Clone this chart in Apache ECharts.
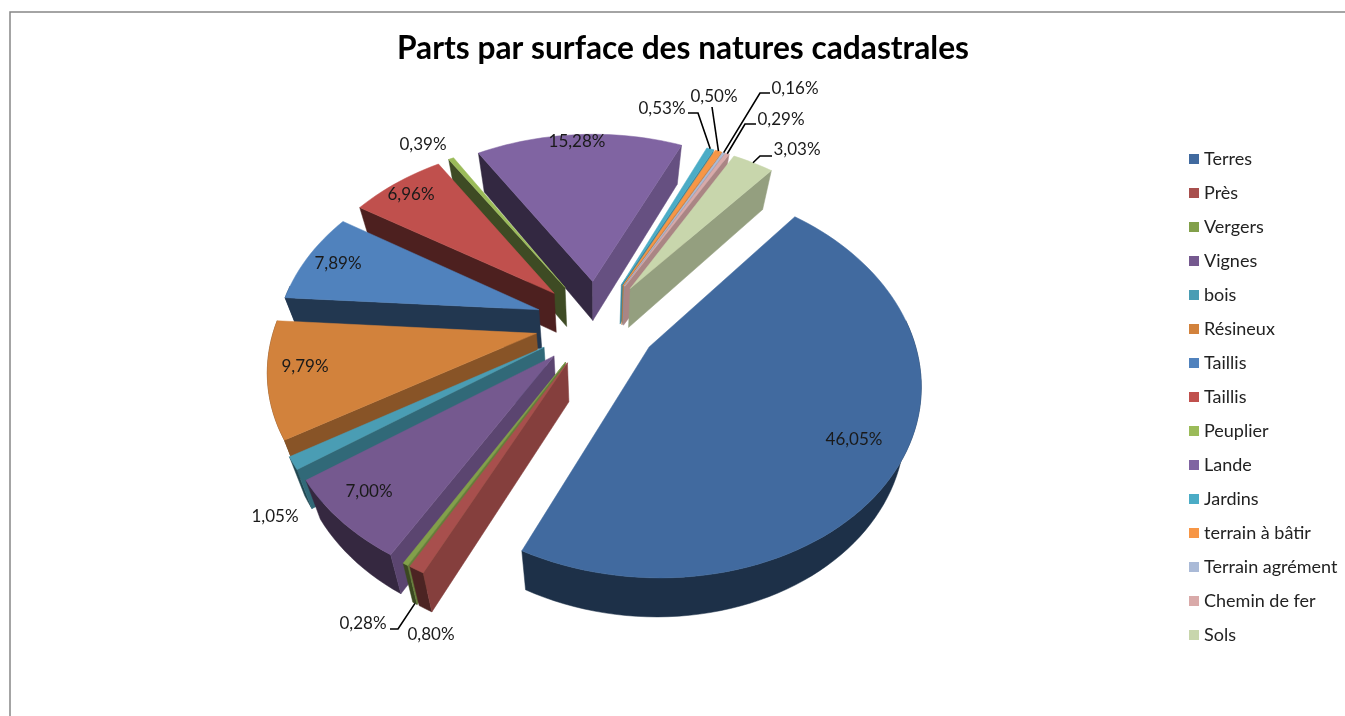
<!DOCTYPE html>
<html>
<head>
<meta charset="utf-8">
<title>Parts par surface des natures cadastrales</title>
<style>
  html, body { margin: 0; padding: 0; background: #fff; }
  #chart { width: 1345px; height: 716px; }
</style>
<script src="https://cdn.jsdelivr.net/npm/echarts@6/dist/echarts.min.js"></script>
</head>
<body>
<div id="chart"></div>
<script>
const categories = ["Terres", "Près", "Vergers", "Vignes", "bois", "Résineux", "Taillis", "Taillis", "Peuplier", "Lande", "Jardins", "terrain à bâtir", "Terrain agrément", "Chemin de fer", "Sols"];
const shares = [46.05, 0.80, 0.28, 7.00, 1.05, 9.79, 7.89, 6.96, 0.39, 15.28, 0.53, 0.50, 0.16, 0.29, 3.03];
const colors = ["#416a9f", "#a84f4d", "#82a04a", "#75598f", "#4a9db4", "#d2823c", "#5082bd", "#c0504d", "#9bbb59", "#8064a2", "#4bacc6", "#f79646", "#aabad7", "#d9aaa9", "#c8d6ac"];

// label centres, then the elbow of the leader line when the label has one
const labelSpots = [
  [854, 440], [431, 635], [363, 624, 398, 629, 390, 629], [369, 492], [275, 517],
  [305, 367], [338, 264], [411, 195], [423, 145], [577, 142],
  [662, 109, 698, 113, 688, 113], [714, 97, 712, 107, 712, 107], [795, 89, 760, 93, 770, 93], [781, 120, 745, 124, 756, 124], [797, 150, 760, 156, 772, 156],
];
const leaderSlices = [2, 10, 11, 12, 13, 14];

// pie geometry (3D look is a plain perspective on the pie plane)
const fontName = "Lato, 'Noto Sans', sans-serif";
const centerX = 596.5;
const centerY = 323;
const radius = 261;
const tilt = 0.705;
const persp = 0.165;
const explode = 0.235;
const depth = 39;
const floorScale = 0.95;
const firstAngle = 40;

const total = shares.reduce((a, b) => a + b, 0);
let running = firstAngle;
const slices = shares.map((v) => {
  const from = running;
  running += (v / total) * 360;
  return { from: from, to: running, mid: (from + running) / 2 };
});

function rad(deg) {
  return (deg * Math.PI) / 180;
}

// screen position of a point of the slice, r = 0 apex, r = 1 rim
function project(slice, angle, r) {
  const u = Math.sin(rad(slice.mid)) * explode + Math.sin(rad(angle)) * r;
  const v = -Math.cos(rad(slice.mid)) * explode - Math.cos(rad(angle)) * r;
  const f = 1 / (1 - persp * v);
  return [centerX + radius * u * f, centerY + radius * tilt * v * f];
}

// same point on the underside, which sits a bit further from the eye
function drop(p) {
  return [centerX + (p[0] - centerX) * floorScale, p[1] + depth];
}

function shade(hex, k) {
  const n = parseInt(hex.slice(1), 16);
  const c = [(n >> 16) & 255, (n >> 8) & 255, n & 255].map((x) => Math.round(x * k));
  return "rgb(" + c.join(",") + ")";
}

function wallShade(normalAngle) {
  return Math.max(0.4, 0.45 + 0.38 * Math.sin(rad(normalAngle)));
}

function poly(points, fill) {
  return {
    type: "polygon",
    shape: { points: points },
    style: { fill: fill, stroke: fill, lineWidth: 0.5 },
  };
}

function renderSlice(params) {
  const i = params.seriesIndex;
  const s = slices[i];
  const rim = [];
  const steps = Math.max(2, Math.ceil((s.to - s.from) / 2));
  for (let k = 0; k <= steps; k++) {
    rim.push(s.from + ((s.to - s.from) * k) / steps);
  }
  const rimPts = rim.map((a) => project(s, a, 1));
  const apex = project(s, s.mid, 0);
  const children = [];

  // rim wall, only the part turned to the viewer
  const front = rim.filter((a) => Math.cos(rad(a)) < 0.15).map((a) => project(s, a, 1));
  if (front.length > 1) {
    children.push(poly(front.concat(front.map(drop).reverse()), shade(colors[i], 0.45)));
  }

  // the two cut faces
  const walls = [
    { angle: s.from, normal: s.from - 90, p: rimPts[0] },
    { angle: s.to, normal: s.to + 90, p: rimPts[rimPts.length - 1] },
  ];
  walls.forEach((w) => {
    if (-Math.cos(rad(w.normal)) > 0) {
      children.push(poly([apex, w.p, drop(w.p), drop(apex)], shade(colors[i], wallShade(w.normal))));
    }
  });

  children.push(poly([apex].concat(rimPts), colors[i]));
  return { type: "group", children: children };
}

function renderLabel(params, api) {
  const i = params.dataIndex;
  const spot = labelSpots[i];
  const children = [
    {
      type: "text",
      x: spot[0],
      y: spot[1],
      style: {
        text: api.value(0).toFixed(2).replace(".", ",") + "%",
        fill: "#1a1a1a",
        font: "17px " + fontName,
        textAlign: "center",
        textVerticalAlign: "middle",
      },
    },
  ];
  if (leaderSlices.includes(i)) {
    const tip = project(slices[i], slices[i].mid, 1);
    const inner = i === 2 ? drop(tip) : tip;
    children.push({
      type: "polyline",
      shape: { points: [inner, [spot[2], spot[3]], [spot[4], spot[5]]] },
      style: { fill: null, stroke: "#000", lineWidth: 1.6 },
    });
  }
  return { type: "group", children: children };
}

// back slices first so the front ones cover them
const order = slices
  .map((s, i) => ({ i: i, v: -Math.cos(rad(s.mid)) }))
  .sort((a, b) => a.v - b.v)
  .map((d) => d.i);

// legend drops repeated names, so the second Taillis carries a trailing space
const seriesNames = categories.map((c, i) => (categories.indexOf(c) === i ? c : c + " "));

const series = categories.map((c, i) => ({
  type: "custom",
  name: seriesNames[i],
  coordinateSystem: "none",
  z: 2 + order.indexOf(i),
  silent: true,
  itemStyle: { color: colors[i] },
  renderItem: renderSlice,
  data: [shares[i]],
}));

series.push({
  type: "custom",
  name: "labels",
  coordinateSystem: "none",
  z: 30,
  silent: true,
  renderItem: renderLabel,
  data: shares,
});

const chart = echarts.init(document.getElementById("chart"));
chart.setOption({
  animation: false,
  backgroundColor: "#fff",
  title: {
    text: "Parts par surface des natures cadastrales",
    left: 678,
    top: 28,
    textAlign: "center",
    textStyle: { fontFamily: fontName, fontSize: 31.7, fontWeight: "bold", color: "#000" },
  },
  legend: {
    orient: "vertical",
    left: 1184,
    top: 145,
    itemWidth: 10,
    itemHeight: 10,
    itemGap: 16,
    icon: "rect",
    selectedMode: false,
    data: seriesNames,
    textStyle: { fontFamily: fontName, fontSize: 18, color: "#222" },
  },
  graphic: [
    {
      type: "polyline",
      shape: { points: [[10, 716], [10, 12], [1345, 12]] },
      style: { fill: null, stroke: "#868686", lineWidth: 1.5 },
    },
  ],
  series: series,
});
</script>
</body>
</html>
